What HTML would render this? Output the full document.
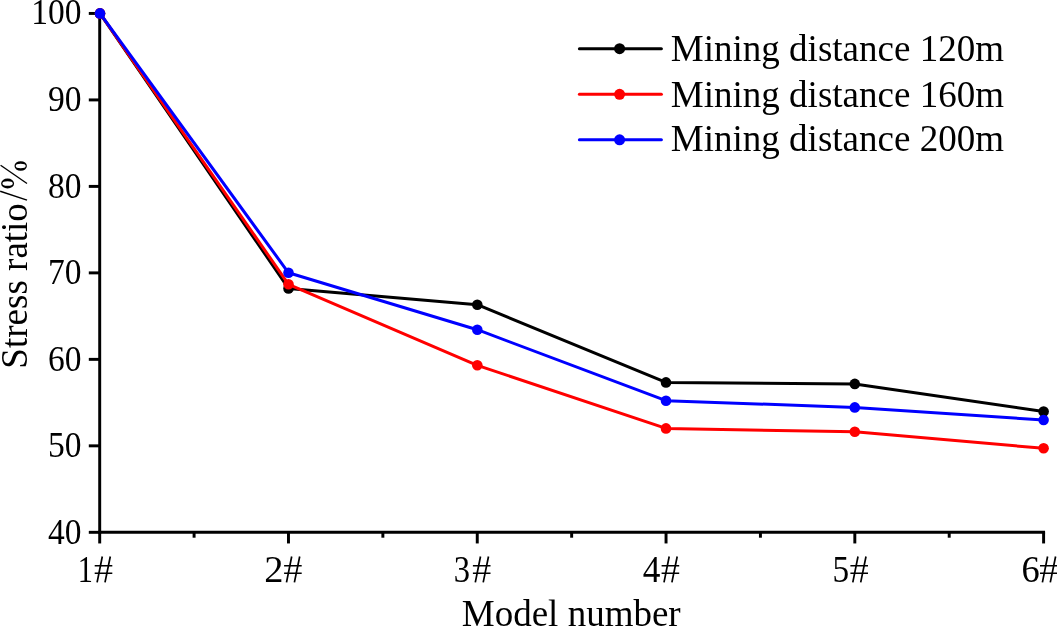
<!DOCTYPE html>
<html><head><meta charset="utf-8"><title>Chart</title>
<style>
html,body{margin:0;padding:0;background:#fff;overflow:hidden;}
svg{display:block;will-change:transform;}
text{font-family:"Liberation Serif",serif;fill:#000;}
</style></head><body>
<svg width="1057" height="627" viewBox="0 0 1057 627">
<rect x="0" y="0" width="1057" height="627" fill="#ffffff"/>
<g stroke="#000" stroke-width="2.95" fill="none">
<line x1="99.7" y1="11.96" x2="99.7" y2="533.77"/>
<line x1="98.23" y1="532.3" x2="1045.07" y2="532.3"/>
<line x1="88.8" y1="532.32" x2="99.7" y2="532.32"/>
<line x1="88.8" y1="445.84" x2="99.7" y2="445.84"/>
<line x1="88.8" y1="359.36" x2="99.7" y2="359.36"/>
<line x1="88.8" y1="272.88" x2="99.7" y2="272.88"/>
<line x1="88.8" y1="186.40" x2="99.7" y2="186.40"/>
<line x1="88.8" y1="99.92" x2="99.7" y2="99.92"/>
<line x1="88.8" y1="13.44" x2="99.7" y2="13.44"/>
<line x1="99.70" y1="532.3" x2="99.70" y2="543.45"/>
<line x1="194.09" y1="532.3" x2="194.09" y2="537.7"/>
<line x1="288.48" y1="532.3" x2="288.48" y2="543.45"/>
<line x1="382.87" y1="532.3" x2="382.87" y2="537.7"/>
<line x1="477.26" y1="532.3" x2="477.26" y2="543.45"/>
<line x1="571.65" y1="532.3" x2="571.65" y2="537.7"/>
<line x1="666.04" y1="532.3" x2="666.04" y2="543.45"/>
<line x1="760.43" y1="532.3" x2="760.43" y2="537.7"/>
<line x1="854.82" y1="532.3" x2="854.82" y2="543.45"/>
<line x1="949.21" y1="532.3" x2="949.21" y2="537.7"/>
<line x1="1043.60" y1="532.3" x2="1043.60" y2="543.45"/>
</g>
<g font-size="35.5" text-anchor="end">
<text transform="translate(81.5,543.8) scale(0.944,1.023)">40</text>
<text transform="translate(81.5,457.3) scale(0.944,1.023)">50</text>
<text transform="translate(81.5,370.9) scale(0.944,1.023)">60</text>
<text transform="translate(81.5,284.4) scale(0.944,1.023)">70</text>
<text transform="translate(81.5,197.9) scale(0.944,1.023)">80</text>
<text transform="translate(81.5,111.4) scale(0.944,1.023)">90</text>
<text transform="translate(81.5,24.2) scale(0.944,1.023)">100</text>
</g>
<g font-size="37">
<text transform="translate(77.79,582.3) scale(0.820,1.05)">1</text>
<text transform="translate(264.34,582.3) scale(1.038,1.05)">2</text>
<text transform="translate(453.80,582.3) scale(0.880,1.05)">3</text>
<text transform="translate(642.80,582.3) scale(0.954,1.05)">4</text>
<text transform="translate(832.54,582.3) scale(0.899,1.05)">5</text>
<text transform="translate(1021.48,582.3) scale(0.987,1.05)">6</text>
</g>
<g stroke="#000" fill="none">
<path d="M94.7 565.7H112.3M94.7 573.2H112.3" stroke-width="1.6"/>
<path d="M102.3 556.5L97.1 582.3M110.3 556.5L105.0 582.3" stroke-width="1.7"/>
<path d="M284.1 565.7H301.7M284.1 573.2H301.7" stroke-width="1.6"/>
<path d="M291.7 556.5L286.5 582.3M299.7 556.5L294.4 582.3" stroke-width="1.7"/>
<path d="M472.9 565.7H490.5M472.9 573.2H490.5" stroke-width="1.6"/>
<path d="M480.5 556.5L475.3 582.3M488.5 556.5L483.2 582.3" stroke-width="1.7"/>
<path d="M661.6 565.7H679.2M661.6 573.2H679.2" stroke-width="1.6"/>
<path d="M669.2 556.5L664.0 582.3M677.2 556.5L671.9 582.3" stroke-width="1.7"/>
<path d="M850.4 565.7H868.0M850.4 573.2H868.0" stroke-width="1.6"/>
<path d="M858.0 556.5L852.8 582.3M866.0 556.5L860.7 582.3" stroke-width="1.7"/>
<path d="M1040.0 565.7H1057.6M1040.0 573.2H1057.6" stroke-width="1.6"/>
<path d="M1047.6 556.5L1042.4 582.3M1055.6 556.5L1050.3 582.3" stroke-width="1.7"/>
</g>
<text x="461.8" y="626.4" font-size="37">Model number</text>
<text transform="translate(26.5,368.75) rotate(-90) scale(1.004,1)" font-size="37">Stress</text>
<text transform="translate(26.5,270.9) rotate(-90) scale(0.997,1)" font-size="37">ratio</text>
<line x1="0.2" y1="191.2" x2="27" y2="200.1" stroke="#000" stroke-width="1.5"/>
<line x1="0.6" y1="165.3" x2="27" y2="183.5" stroke="#000" stroke-width="1.35"/>
<path fill-rule="evenodd" fill="#000" d="M14.50 166.0a6.2 4.8 0 1 0 12.4 0a6.2 4.8 0 1 0 -12.4 0zM15.70 166.0a5.0 2.2 0 1 0 10.0 0a5.0 2.2 0 1 0 -10.0 0z"/>
<path fill-rule="evenodd" fill="#000" d="M1.10 183.5a6.5 5.1 0 1 0 13.0 0a6.5 5.1 0 1 0 -13.0 0zM2.40 183.5a5.2 2.3 0 1 0 10.4 0a5.2 2.3 0 1 0 -10.4 0z"/>
<polyline points="100.0,13.4 288.5,288.4 477.3,304.7 666.0,382.4 854.8,383.9 1043.6,411.5" fill="none" stroke="#000000" stroke-width="3.0" stroke-linejoin="round" stroke-linecap="round"/>
<circle cx="100.0" cy="13.4" r="5.3" fill="#000000"/>
<circle cx="288.5" cy="288.4" r="5.3" fill="#000000"/>
<circle cx="477.3" cy="304.7" r="5.3" fill="#000000"/>
<circle cx="666.0" cy="382.4" r="5.3" fill="#000000"/>
<circle cx="854.8" cy="383.9" r="5.3" fill="#000000"/>
<circle cx="1043.6" cy="411.5" r="5.3" fill="#000000"/>

<polyline points="100.0,13.4 288.5,284.3 477.3,365.3 666.0,428.4 854.8,431.8 1043.6,448.3" fill="none" stroke="#ff0000" stroke-width="3.0" stroke-linejoin="round" stroke-linecap="round"/>
<circle cx="100.0" cy="13.4" r="5.3" fill="#ff0000"/>
<circle cx="288.5" cy="284.3" r="5.3" fill="#ff0000"/>
<circle cx="477.3" cy="365.3" r="5.3" fill="#ff0000"/>
<circle cx="666.0" cy="428.4" r="5.3" fill="#ff0000"/>
<circle cx="854.8" cy="431.8" r="5.3" fill="#ff0000"/>
<circle cx="1043.6" cy="448.3" r="5.3" fill="#ff0000"/>

<polyline points="100.0,13.4 288.5,272.8 477.3,329.7 666.0,400.7 854.8,407.4 1043.6,420.0" fill="none" stroke="#0000ff" stroke-width="3.0" stroke-linejoin="round" stroke-linecap="round"/>
<circle cx="100.0" cy="13.4" r="5.3" fill="#0000ff"/>
<circle cx="288.5" cy="272.8" r="5.3" fill="#0000ff"/>
<circle cx="477.3" cy="329.7" r="5.3" fill="#0000ff"/>
<circle cx="666.0" cy="400.7" r="5.3" fill="#0000ff"/>
<circle cx="854.8" cy="407.4" r="5.3" fill="#0000ff"/>
<circle cx="1043.6" cy="420.0" r="5.3" fill="#0000ff"/>

<line x1="579.4" y1="48.7" x2="661.4" y2="48.7" stroke="#000000" stroke-width="3.0" stroke-linecap="round"/>
<circle cx="619.6" cy="48.7" r="5.5" fill="#000000"/>
<text transform="translate(670.8,60.8) scale(1.001,1.02)" font-size="37">Mining distance 120m</text>
<line x1="579.4" y1="94.3" x2="661.4" y2="94.3" stroke="#ff0000" stroke-width="3.0" stroke-linecap="round"/>
<circle cx="619.6" cy="94.3" r="5.5" fill="#ff0000"/>
<text transform="translate(670.8,106.8) scale(1.001,1.02)" font-size="37">Mining distance 160m</text>
<line x1="579.4" y1="139.8" x2="661.4" y2="139.8" stroke="#0000ff" stroke-width="3.0" stroke-linecap="round"/>
<circle cx="619.6" cy="139.8" r="5.5" fill="#0000ff"/>
<text transform="translate(670.8,151.4) scale(1.001,1.02)" font-size="37">Mining distance 200m</text>
</svg>
</body></html>
